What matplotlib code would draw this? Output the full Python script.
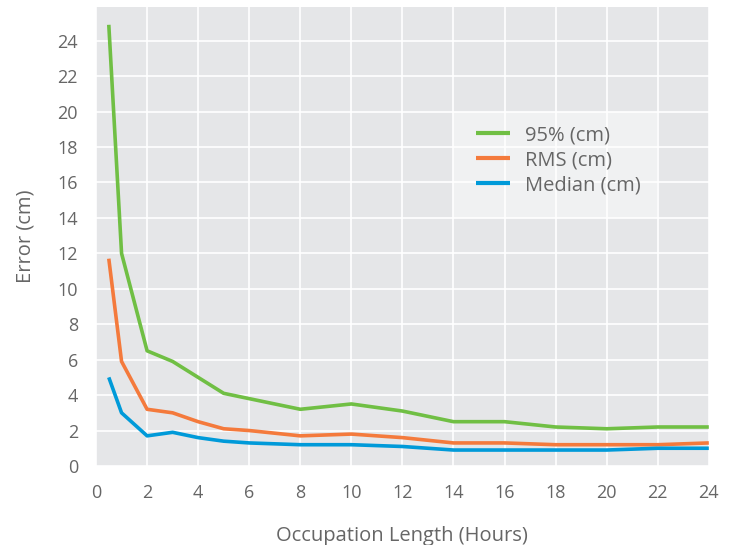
import matplotlib
matplotlib.use("Agg")
import matplotlib.pyplot as plt
from matplotlib.patches import Rectangle

plt.rcParams['font.family'] = ['Open Sans', 'DejaVu Sans']

hours = [0.5, 1, 2, 3, 4, 5, 6, 8, 10, 12, 14, 16, 18, 20, 22, 24]
err_95 = [24.9, 12.0, 6.5, 5.9, 5.0, 4.1, 3.8, 3.2, 3.5, 3.1, 2.5, 2.5, 2.2, 2.1, 2.2, 2.2]
err_rms = [11.7, 5.9, 3.2, 3.0, 2.5, 2.1, 2.0, 1.7, 1.8, 1.6, 1.3, 1.3, 1.2, 1.2, 1.2, 1.3]
err_median = [5.0, 3.0, 1.7, 1.9, 1.6, 1.4, 1.3, 1.2, 1.2, 1.1, 0.9, 0.9, 0.9, 0.9, 1.0, 1.0]

labels = ["95% (cm)", "RMS (cm)", "Median (cm)"]
colors = ["#70bf44", "#f47a3c", "#009ad9"]
text_col = "#666666"

fig = plt.figure(figsize=(7.33, 5.45), dpi=100)
ax = fig.add_axes([0.131, 0.145, 0.836, 0.842])
ax.set_facecolor("#e5e6e8")

for y, lab, c in zip([err_95, err_rms, err_median], labels, colors):
    ax.plot(hours, y, color=c, lw=2.6, label=lab, solid_capstyle='butt', zorder=3)

ax.set_xlim(0, 24)
ax.set_ylim(0, 25.9)
ax.set_xticks(range(0, 25, 2))
ax.set_yticks(range(0, 25, 2))
ax.grid(True, color="white", lw=1.2)
ax.set_axisbelow(True)
for s in ax.spines.values():
    s.set_visible(False)
ax.tick_params(length=0, labelsize=13, labelcolor=text_col, pad=13)

ax.set_xlabel("Occupation Length (Hours)", fontsize=14.5, color=text_col, labelpad=17)
ax.set_ylabel("Error (cm)", fontsize=14.5, color=text_col, labelpad=16)

# light box behind the legend
ax.add_patch(Rectangle((0.582, 0.540), 0.334, 0.231, transform=ax.transAxes,
                       facecolor="white", alpha=0.45, edgecolor="none", zorder=2))

leg = ax.legend(loc="upper left", bbox_to_anchor=(0.620, 0.743), frameon=False,
                fontsize=14.5, handlelength=1.7, handletextpad=0.75,
                borderpad=0, borderaxespad=0, labelspacing=0.25)
for line in leg.get_lines():
    line.set_linewidth(3)
for t in leg.get_texts():
    t.set_color(text_col)

fig.savefig("out.png", dpi=100)
